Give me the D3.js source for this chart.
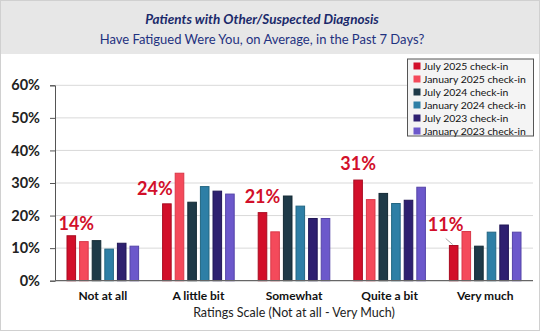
<!DOCTYPE html>
<html>
<head>
<meta charset="utf-8">
<script src="https://cdn.jsdelivr.net/npm/d3@7"></script>
<style>
  html, body { margin: 0; padding: 0; background: #fff; }
  svg { display: block; font-family: Lato, "Open Sans", sans-serif; }
</style>
</head>
<body>
<svg id="chart" width="540" height="331"></svg>
<script>
// Response categories on the x axis
const categories = ["Not at all", "A little bit", "Somewhat", "Quite a bit", "Very much"];

// Survey waves (legend order)
const seriesNames = [
  "July 2025 check-in",
  "January 2025 check-in",
  "July 2024 check-in",
  "January 2024 check-in",
  "July 2023 check-in",
  "January 2023 check-in"
];

// Percent of respondents per category, one array per wave
const july2025 = [13.8, 23.6, 20.9, 30.9, 10.8];
const jan2025  = [12.0, 33.0, 15.0, 24.9, 15.1];
const july2024 = [12.3, 24.1, 26.0, 26.8, 10.6];
const jan2024  = [9.7, 28.9, 22.9, 23.7, 14.9];
const july2023 = [11.5, 27.5, 19.1, 24.7, 17.1];
const jan2023  = [10.6, 26.6, 19.1, 28.7, 14.9];

// Labelled values for the latest wave
const latestLabels = [14, 24, 21, 31, 11];

const yTicks = [0, 10, 20, 30, 40, 50, 60];

const seriesValues = [july2025, jan2025, july2024, jan2024, july2023, jan2023];
const colors = ["#D20F2A", "#F44A5B", "#1E3A48", "#2E7FA6", "#2E2070", "#6C58CB"];
const strokes = ["#A80B20", "#D93848", "#142A35", "#236682", "#201655", "#5544A8"];

const svg = d3.select("#chart");
const W = 540, H = 331;

// Frame and title band
svg.append("rect").attr("x", 0.5).attr("y", 0.5).attr("width", W - 1).attr("height", H - 1)
  .attr("fill", "#fff").attr("stroke", "#d0d0d0");
svg.append("rect").attr("x", 1).attr("y", 1).attr("width", W - 2).attr("height", 53)
  .attr("fill", "#e7e7e7");

svg.append("text").attr("x", 262).attr("y", 24).attr("text-anchor", "middle")
  .attr("font-size", 13.5).attr("font-weight", "bold").attr("font-style", "italic")
  .attr("fill", "#1B2A6B").text("Patients with Other/Suspected Diagnosis");
svg.append("text").attr("x", 262).attr("y", 44).attr("text-anchor", "middle")
  .attr("font-size", 13).attr("fill", "#1F3280")
  .text("Have Fatigued Were You, on Average, in the Past 7 Days?");

// Plot area
const plotLeft = 55, plotRight = 533, plotTop = 85.3, plotBottom = 280.7;

const x = d3.scaleBand().domain(categories).range([plotLeft, plotRight]).paddingInner(0).paddingOuter(0);
const xs = d3.scaleBand().domain(d3.range(seriesNames.length))
  .range([11.5, x.bandwidth() - 11.5]).paddingInner(0.24).paddingOuter(0);
const y = d3.scaleLinear().domain([0, 60]).range([plotBottom, plotTop]);

// Gridlines
svg.append("g").selectAll("line").data(yTicks.filter(t => t > 0)).join("line")
  .attr("x1", plotLeft).attr("x2", plotRight)
  .attr("y1", d => y(d)).attr("y2", d => y(d))
  .attr("stroke", "#d9d9d9").attr("stroke-width", 1);

// Y axis
const yAxis = svg.append("g").attr("transform", `translate(${plotLeft},0)`)
  .call(d3.axisLeft(y).tickValues(yTicks).tickFormat(d => d + "%").tickSize(5).tickPadding(10));
yAxis.select(".domain").attr("stroke", "#555");
yAxis.selectAll(".tick line").attr("stroke", "#555");
yAxis.selectAll(".tick text").attr("font-size", 14.5).attr("font-weight", "bold")
  .attr("fill", "#222").attr("font-family", "Lato, sans-serif");

// Bars
const groups = svg.append("g").selectAll("g").data(categories).join("g")
  .attr("transform", d => `translate(${x(d)},0)`);
groups.selectAll("rect")
  .data((c, ci) => seriesValues.map((vals, si) => ({ si, v: vals[ci] })))
  .join("rect")
  .attr("x", d => xs(d.si) + 0.5)
  .attr("width", xs.bandwidth() - 1)
  .attr("y", d => y(d.v))
  .attr("height", d => plotBottom - y(d.v))
  .attr("fill", d => colors[d.si])
  .attr("stroke", d => strokes[d.si])
  .attr("stroke-width", 1);

// X axis baseline and category labels
svg.append("line").attr("x1", plotLeft).attr("x2", plotRight).attr("y1", plotBottom).attr("y2", plotBottom)
  .attr("stroke", "#666").attr("stroke-width", 1.3);
const xAxis = svg.append("g").attr("transform", `translate(0,${plotBottom})`)
  .call(d3.axisBottom(x).tickSize(0).tickPadding(11));
xAxis.select(".domain").remove();
xAxis.selectAll(".tick text").attr("font-size", 12).attr("font-weight", "bold")
  .attr("fill", "#111").attr("font-family", "Lato, sans-serif");

svg.append("text").attr("x", 294).attr("y", 317).attr("text-anchor", "middle")
  .attr("font-size", 12.5).attr("fill", "#222").text("Ratings Scale (Not at all - Very Much)");

// Value labels for the latest wave, placed beside the first bar of each group
const labelOffsets = [[5, -6], [-12, -9], [0, -10], [0, -10], [-8, -15]];
const barCenter = ci => x(categories[ci]) + xs(0) + xs.bandwidth() / 2;
svg.append("g").selectAll("text").data(latestLabels).join("text")
  .attr("x", (d, i) => barCenter(i) + labelOffsets[i][0])
  .attr("y", (d, i) => y(july2025[i]) + labelOffsets[i][1])
  .attr("text-anchor", "middle")
  .attr("font-size", 18).attr("font-weight", "bold").attr("fill", "#D20F2A")
  .text(d => d + "%");
// Leader line for the last label
svg.append("line")
  .attr("x1", barCenter(4) - 8).attr("y1", y(july2025[4]) - 7)
  .attr("x2", barCenter(4) - 1).attr("y2", y(july2025[4]) - 1)
  .attr("stroke", "#aaa").attr("stroke-width", 1);

// Legend
const lg = svg.append("g").attr("transform", "translate(407.5,59)");
lg.append("rect").attr("width", 126).attr("height", 77)
  .attr("fill", "#f4f4f4").attr("stroke", "#555").attr("stroke-width", 1);
const items = lg.selectAll("g").data(seriesNames).join("g")
  .attr("transform", (d, i) => `translate(6,${7 + i * 13})`);
items.append("rect").attr("x", 0).attr("y", -3.5).attr("width", 7).attr("height", 7)
  .attr("fill", (d, i) => colors[i]);
items.append("text").attr("x", 9.5).attr("y", 0).attr("dy", "0.35em")
  .attr("font-size", 10.4).attr("fill", "#111").text(d => d);
</script>
</body>
</html>
